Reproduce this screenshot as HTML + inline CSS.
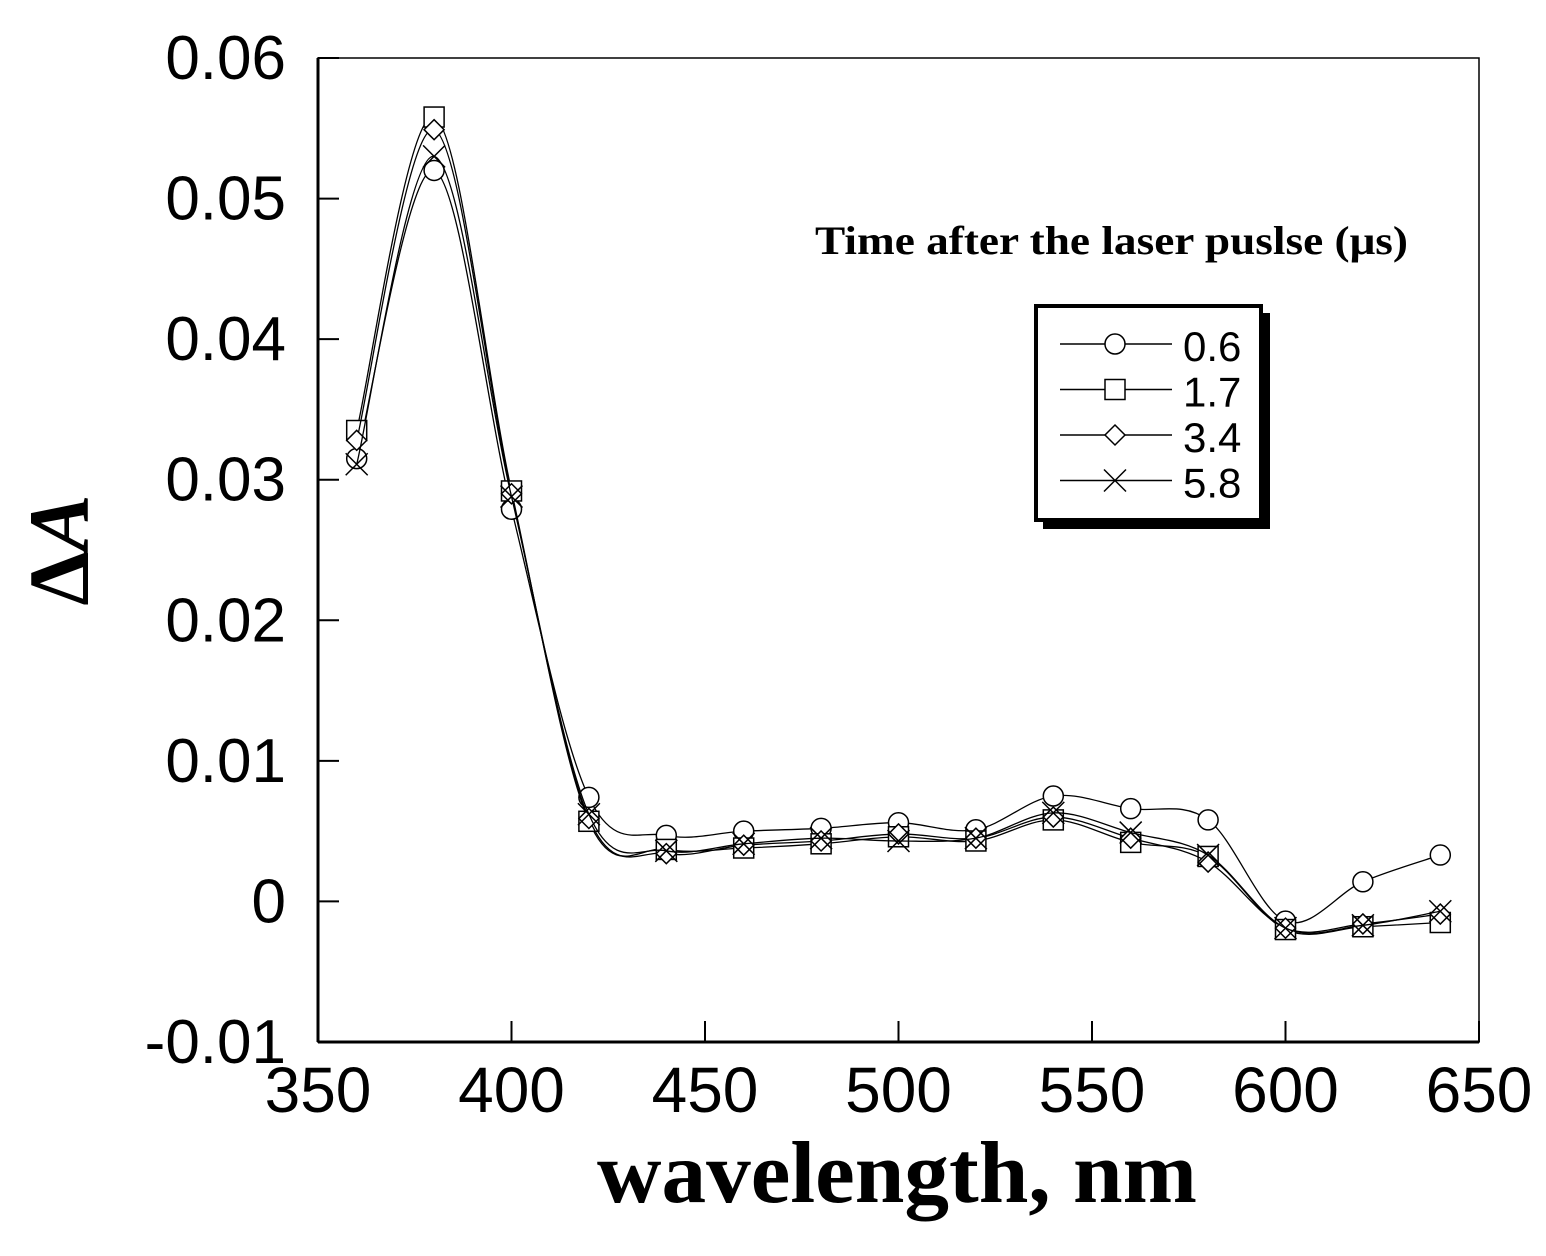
<!DOCTYPE html>
<html><head><meta charset="utf-8"><style>
html,body{margin:0;padding:0;background:#fff}
svg text{font-family:"Liberation Sans",sans-serif}
</style></head><body>
<svg id="chart" width="1546" height="1251" xmlns="http://www.w3.org/2000/svg">
<rect x="0" y="0" width="1546" height="1251" fill="#fff"/>
<g id="plot"></g>
<text x="897" y="1202" text-anchor="middle" textLength="600" lengthAdjust="spacingAndGlyphs" style="font-family:'Liberation Serif',serif;font-weight:bold;font-size:88px">wavelength, nm</text>
<text transform="translate(88,550) rotate(-90)" text-anchor="middle" style="font-family:'Liberation Serif',serif;font-weight:bold;font-size:86px">Δ<tspan font-style="italic">A</tspan></text>
<text x="815" y="254" textLength="593" lengthAdjust="spacingAndGlyphs" style="font-family:'Liberation Serif',serif;font-weight:bold;font-size:40px">Time after the laser puslse (μs)</text>
<g>
<rect x="1043" y="313" width="227" height="216" fill="#000"/>
<rect x="1036" y="306" width="225" height="214" fill="#fff" stroke="#000" stroke-width="4"/>
<g id="legend-entries"></g>
</g>
</svg>
<script>
const wavelengths=[360,380,400,420,440,460,480,500,520,540,560,580,600,620,640];
const s06=[0.0315,0.0520,0.0279,0.0074,0.0047,0.0050,0.0052,0.0056,0.0051,0.0075,0.0066,0.0058,-0.0014,0.0014,0.0033];
const s17=[0.0335,0.0558,0.0292,0.0057,0.0037,0.0038,0.0041,0.0046,0.0043,0.0058,0.0042,0.0032,-0.0020,-0.0018,-0.0015];
const s34=[0.0328,0.0549,0.0290,0.0059,0.0034,0.0040,0.0043,0.0048,0.0045,0.0060,0.0045,0.0028,-0.0019,-0.0016,-0.0009];
const s58=[0.0311,0.0530,0.0288,0.0062,0.0036,0.0041,0.0045,0.0043,0.0045,0.0063,0.0049,0.0033,-0.0019,-0.0017,-0.0007];
const seriesNames=["0.6","1.7","3.4","5.8"];
const markers=["circle","square","diamond","cross"];
const xTicks=[350,400,450,500,550,600,650];
const yTicks=[-0.01,0,0.01,0.02,0.03,0.04,0.05,0.06];
const yTickLabels=["-0.01","0","0.01","0.02","0.03","0.04","0.05","0.06"];

const X0=318,X1=1479,Y0=1042,Y1=58;
const xs=v=>X0+(v-350)/300*(X1-X0);
const ys=v=>Y0-(v+0.01)/0.07*(Y0-Y1);
const NS="http://www.w3.org/2000/svg";
const plot=document.getElementById('plot');
function mk(t,a,p){const e=document.createElementNS(NS,t);for(const k in a)e.setAttribute(k,a[k]);(p||plot).appendChild(e);return e;}

const frame=mk('rect',{x:X0,y:Y1,width:X1-X0,height:Y0-Y1,fill:'none',stroke:'#000','stroke-width':1.5});


mk('line',{x1:X0,y1:Y1,x2:X0,y2:Y0,stroke:'#000','stroke-width':3});
mk('line',{x1:X0,y1:Y0,x2:X1,y2:Y0,stroke:'#000','stroke-width':3});
xTicks.forEach(t=>{
  const x=xs(t);
  mk('line',{x1:x,y1:Y0,x2:x,y2:Y0-21,stroke:'#000','stroke-width':2});
  const tx=mk('text',{x:x,y:1112,'text-anchor':'middle','font-size':64});
  tx.textContent=t;
  
  
});
yTicks.forEach((t,i)=>{
  const y=ys(t);
  mk('line',{x1:X0,y1:y,x2:X0+21,y2:y,stroke:'#000','stroke-width':2});
  const tx=mk('text',{x:286,y:y+21,'text-anchor':'end','font-size':62});
  tx.textContent=yTickLabels[i];
  
  
});

function spline(pts){
  let d=`M${pts[0][0]},${pts[0][1]}`;
  for(let i=0;i<pts.length-1;i++){
    const p0=pts[Math.max(0,i-1)],p1=pts[i],p2=pts[i+1],p3=pts[Math.min(pts.length-1,i+2)];
    const c1=[p1[0]+(p2[0]-p0[0])/6,p1[1]+(p2[1]-p0[1])/6];
    const c2=[p2[0]-(p3[0]-p1[0])/6,p2[1]-(p3[1]-p1[1])/6];
    d+=` C${c1[0]},${c1[1]} ${c2[0]},${c2[1]} ${p2[0]},${p2[1]}`;
  }
  return d;
}
function marker(type,x,y,parent){
  const st={fill:'#fff',stroke:'#000','stroke-width':1.5};
  let m;
  if(type==='circle')m=mk('circle',Object.assign({cx:x,cy:y,r:10},st),parent);
  else if(type==='square')m=mk('rect',Object.assign({x:x-10,y:y-10,width:20,height:20},st),parent);
  else if(type==='diamond')m=mk('polygon',Object.assign({points:`${x},${y-10} ${x+10},${y} ${x},${y+10} ${x-10},${y}`},st),parent);
  else m=mk('path',{d:`M${x-11},${y-11}L${x+11},${y+11}M${x-11},${y+11}L${x+11},${y-11}`,stroke:'#000','stroke-width':1.5,fill:'none'},parent);
  return m;
}
const allSeries=[s06,s17,s34,s58];
allSeries.forEach((s,si)=>{
  const g=mk('g',{});
  
  
  const pts=wavelengths.map((w,i)=>[xs(w),ys(s[i])]);
  mk('path',{d:spline(pts),fill:'none',stroke:'#000','stroke-width':1.3},g);
  pts.forEach(p=>{
    const m=marker(markers[si],p[0],p[1],g);
    
    
  });
});
const le=document.getElementById('legend-entries');
seriesNames.forEach((n,i)=>{
  const y=344+i*45.5;
  const g=mk('g',{},le);
  
  
  mk('line',{x1:1060,y1:y,x2:1172,y2:y,stroke:'#000','stroke-width':1.5},g);
  marker(markers[i],1115,y,g);
  const t=mk('text',{x:1183,y:y+17,'font-size':42},g);
  t.textContent=n;
});
</script>
</body></html>
